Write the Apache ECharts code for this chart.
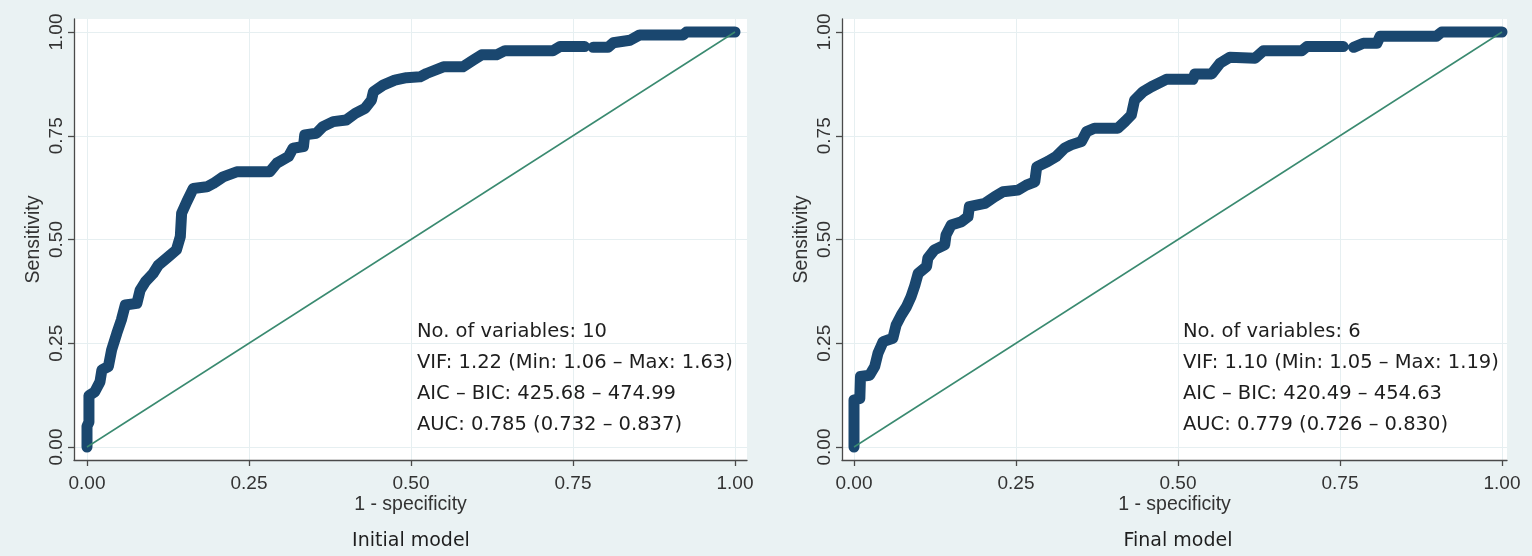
<!DOCTYPE html>
<html><head><meta charset="utf-8">
<script src="https://cdn.jsdelivr.net/npm/echarts@6/dist/echarts.min.js"></script>
<style>html,body{margin:0;padding:0;background:#eaf2f3}#c{width:1532px;height:556px}</style>
</head><body><div id="c"></div>
<script>
// ---- data ----
const tickValues = [0, 0.25, 0.5, 0.75, 1];
const leftFpr  = [0,0,0.003,0.003,0.012,0.02,0.023,0.033,0.038,0.046,0.053,0.059,0.077,0.082,0.09,0.102,0.11,0.126,0.138,0.144,0.146,0.154,0.164,0.185,0.195,0.21,0.231,0.282,0.293,0.311,0.318,0.334,0.336,0.354,0.364,0.38,0.40,0.414,0.429,0.439,0.442,0.457,0.475,0.493,0.514,0.524,0.55,0.58,0.596,0.609,0.632,0.645,0.719,0.73,0.768,null,0.781,0.804,0.812,0.838,0.853,0.92,0.925,1.0];
const leftSens = [0,0.05,0.06,0.124,0.133,0.157,0.186,0.194,0.234,0.274,0.306,0.342,0.346,0.378,0.398,0.418,0.438,0.459,0.475,0.507,0.563,0.591,0.623,0.627,0.635,0.651,0.663,0.663,0.684,0.70,0.72,0.724,0.752,0.756,0.772,0.784,0.788,0.804,0.816,0.836,0.856,0.872,0.884,0.89,0.892,0.90,0.916,0.916,0.932,0.945,0.945,0.955,0.955,0.965,0.965,null,0.963,0.963,0.974,0.98,0.993,0.993,1.0,1.0];
const rightFpr  = [0,0,0.009,0.01,0.024,0.032,0.037,0.045,0.06,0.065,0.073,0.081,0.088,0.094,0.099,0.112,0.114,0.124,0.14,0.142,0.15,0.166,0.176,0.178,0.202,0.217,0.23,0.253,0.266,0.279,0.282,0.299,0.312,0.325,0.335,0.351,0.359,0.371,0.407,0.418,0.428,0.433,0.446,0.459,0.482,0.523,0.526,0.552,0.565,0.58,0.619,0.632,0.691,0.699,0.755,null,0.771,0.786,0.807,0.812,0.899,0.907,1.0];
const rightSens = [0,0.113,0.117,0.17,0.173,0.194,0.226,0.254,0.262,0.294,0.318,0.338,0.362,0.39,0.418,0.435,0.455,0.475,0.487,0.511,0.535,0.543,0.555,0.579,0.587,0.603,0.615,0.619,0.631,0.639,0.675,0.688,0.70,0.72,0.728,0.736,0.76,0.768,0.768,0.784,0.80,0.836,0.856,0.868,0.886,0.886,0.899,0.899,0.925,0.939,0.937,0.955,0.955,0.965,0.965,null,0.963,0.973,0.973,0.99,0.99,1.0,1.0];
const refLine = [0, 1];
const panelTitles = ['Initial model', 'Final model'];
const xAxisTitle = '1 - specificity';
const yAxisTitle = 'Sensitivity';
const leftStats  = ['No. of variables: 10', 'VIF: 1.22 (Min: 1.06 \u2013 Max: 1.63)', 'AIC \u2013 BIC: 425.68 \u2013 474.99', 'AUC: 0.785 (0.732 \u2013 0.837)'];
const rightStats = ['No. of variables: 6', 'VIF: 1.10 (Min: 1.05 \u2013 Max: 1.19)', 'AIC \u2013 BIC: 420.49 \u2013 454.63', 'AUC: 0.779 (0.726 \u2013 0.830)'];

// ---- build ----
const pairs = (xs, ys) => xs.map((x, i) => (x === null ? ['-', '-'] : [x, ys[i]]));
const NAVY = '#1a476f', GREEN = '#3a8a70', GRID = '#e6eff1', AXIS = '#4a4a4a', TXT = '#333';
const tickFont = { fontFamily: 'Liberation Sans', fontSize: 19, color: TXT };
const nameFont = { fontFamily: 'Liberation Sans', fontSize: 19.5, color: TXT };

function xAx(idx, min, max) {
  return {
    type: 'value', gridIndex: idx, min: min, max: max,
    name: xAxisTitle, nameLocation: 'middle', nameGap: 35, nameMoveOverlap: false, nameTextStyle: nameFont,
    axisLine: { show: true, onZero: false, lineStyle: { color: AXIS, width: 1.3 } },
    axisTick: { show: true, length: 6, customValues: tickValues, lineStyle: { color: AXIS, width: 1.3 } },
    axisLabel: Object.assign({ customValues: tickValues, margin: 14, formatter: v => v.toFixed(2) }, tickFont),
    splitLine: { show: true, lineStyle: { color: GRID, width: 1 } }
  };
}
function yAx(idx) {
  return {
    type: 'value', gridIndex: idx, min: -13/415, max: 1 + 13/415,
    name: yAxisTitle, nameLocation: 'middle', nameGap: 30, nameRotate: 90, nameTextStyle: nameFont,
    axisLine: { show: true, onZero: false, lineStyle: { color: AXIS, width: 1.3 } },
    axisTick: { show: true, length: 6, customValues: tickValues, lineStyle: { color: AXIS, width: 1.3 } },
    axisLabel: Object.assign({ customValues: tickValues, margin: 8, rotate: 90, formatter: v => v.toFixed(2) }, tickFont),
    splitLine: { show: true, lineStyle: { color: GRID, width: 1 } }
  };
}
function curve(idx, data) {
  return {
    type: 'line', xAxisIndex: idx, yAxisIndex: idx, data: data, showSymbol: false,
    connectNulls: false, silent: true, z: 2,
    lineStyle: { color: NAVY, width: 11, cap: 'round', join: 'round' }
  };
}
function ref(idx) {
  return {
    type: 'line', xAxisIndex: idx, yAxisIndex: idx, data: refLine.map(v => [v, v]), showSymbol: false,
    silent: true, z: 3, lineStyle: { color: GREEN, width: 1.5 }
  };
}
const statStyle = (lines, x) => ({
  type: 'text', left: x, top: 317, z: 10,
  style: { text: lines.join('\n'), fontFamily: 'DejaVu Sans', fontSize: 19.5, lineHeight: 30.7, fill: '#1e1e1e' }
});
const titleFont = { fontFamily: 'DejaVu Sans', fontSize: 19, fontWeight: 'normal', color: '#1e1e1e' };

const chart = echarts.init(document.getElementById('c'), null, { renderer: 'canvas' });
chart.setOption({
  backgroundColor: '#eaf2f3',
  animation: false,
  title: [
    { text: panelTitles[0], left: 411, top: 532, textAlign: 'center', padding: 0, textStyle: titleFont },
    { text: panelTitles[1], left: 1178, top: 532, textAlign: 'center', padding: 0, textStyle: titleFont }
  ],
  grid: [
    { left: 74, top: 19, width: 673, height: 441, show: true, backgroundColor: '#fff', borderWidth: 0 },
    { left: 842, top: 19, width: 665, height: 441, show: true, backgroundColor: '#fff', borderWidth: 0 }
  ],
  xAxis: [xAx(0, -13/648, 1 + 12/648), xAx(1, -12/648, 1 + 5/648)],
  yAxis: [yAx(0), yAx(1)],
  series: [
    curve(0, pairs(leftFpr, leftSens)), ref(0),
    curve(1, pairs(rightFpr, rightSens)), ref(1)
  ],
  graphic: [statStyle(leftStats, 417), statStyle(rightStats, 1183)]
});
</script></body></html>
